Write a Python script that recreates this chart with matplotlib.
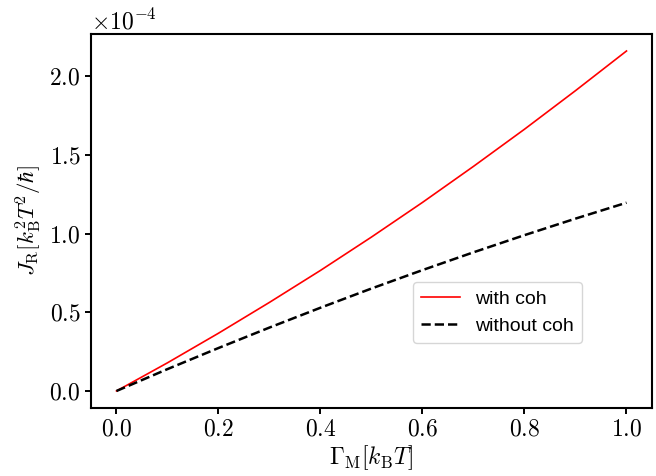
import numpy as np
import matplotlib
matplotlib.use('Agg')
import matplotlib.pyplot as plt

# Values (units of 1e-4)
gamma = [0.0, 0.1, 0.2, 0.3, 0.4, 0.5, 0.6, 0.7, 0.8, 0.9, 1.0]
j_coh = [0.0, 0.179, 0.367, 0.563, 0.766, 0.978, 1.198, 1.427, 1.663, 1.908, 2.16]
j_nocoh = [0.0, 0.139, 0.273, 0.403, 0.529, 0.651, 0.768, 0.881, 0.990, 1.095, 1.196]

plt.rcParams['font.family'] = 'serif'
plt.rcParams['font.serif'] = ['cmr10']
plt.rcParams['mathtext.fontset'] = 'cm'
plt.rcParams['axes.formatter.use_mathtext'] = True
plt.rcParams['axes.unicode_minus'] = False

fig = plt.figure(figsize=(6.56, 4.76), dpi=100)
ax = fig.add_axes([0.1387, 0.1429, 0.8552, 0.7857])

x = np.array(gamma)
ax.plot(x, np.array(j_coh) * 1e-4, color='red', lw=1.2, label='with coh')
ax.plot(x, np.array(j_nocoh) * 1e-4, color='black', lw=1.8, ls='--', label='without coh')

ax.set_xlabel(r'$\Gamma_\mathrm{M}[k_\mathrm{B}T]$', fontsize=17, labelpad=2)
ax.set_ylabel(r'$J_\mathrm{R}[k_\mathrm{B}^2T^2/\hbar]$', fontsize=16.5, labelpad=4)
ax.tick_params(labelsize=17, width=1.4, length=4)
ax.yaxis.get_offset_text().set_fontsize(17)
for s in ax.spines.values():
    s.set_linewidth(1.5)

ax.set_yticks([0, 0.5e-4, 1.0e-4, 1.5e-4, 2.0e-4])
ax.ticklabel_format(axis='y', style='sci', scilimits=(0, 0))

ax.legend(loc='lower right', bbox_to_anchor=(0.875, 0.174), borderaxespad=0,
          prop={'family': 'Liberation Sans', 'size': 14}, handlelength=2.0)

fig.savefig('out.png', dpi=100)
